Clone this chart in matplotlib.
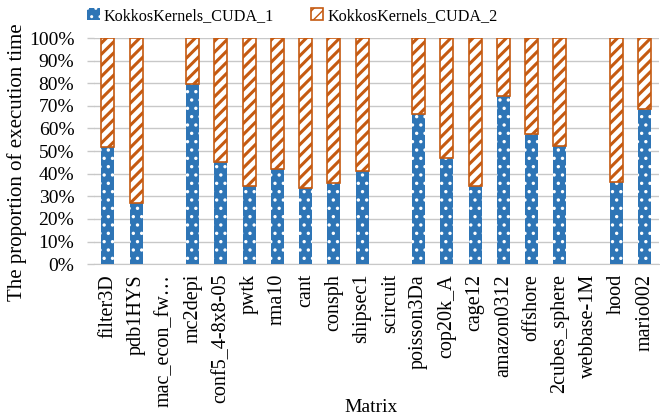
import numpy as np
import matplotlib.pyplot as plt
from matplotlib.ticker import PercentFormatter

plt.rcParams['font.family'] = ['Liberation Serif', 'DejaVu Serif']

matrices = ['filter3D', 'pdb1HYS', 'mac_econ_fw…', 'mc2depi', 'conf5_4-8x8-05',
            'pwtk', 'rma10', 'cant', 'consph', 'shipsec1', 'scircuit',
            'poisson3Da', 'cop20k_A', 'cage12', 'amazon0312', 'offshore',
            '2cubes_sphere', 'webbase-1M', 'hood', 'mario002']
cuda_1 = [0.52, 0.27, np.nan, 0.795, 0.453, 0.346, 0.419, 0.338, 0.36, 0.413, np.nan,
          0.662, 0.47, 0.346, 0.745, 0.577, 0.523, np.nan, 0.364, 0.686]
cuda_2 = [1 - v for v in cuda_1]

blue = '#2E75B6'
orange = '#C55A11'

fig = plt.figure(figsize=(6.6, 4.18), dpi=100)
ax = fig.add_axes([0.142, 0.368, 0.856, 0.541])

x = np.arange(len(matrices))
w = 0.46
with plt.rc_context({'hatch.linewidth': 1.2}):
    ax.bar(x, cuda_1, w, color=blue, edgecolor='white', linewidth=0,
           hatch='..', label='KokkosKernels_CUDA_1', zorder=3)
with plt.rc_context({'hatch.linewidth': 2.2}):
    ax.bar(x, cuda_2, w, bottom=cuda_1, color='white', edgecolor=orange,
           linewidth=1.2, hatch='///', label='KokkosKernels_CUDA_2', zorder=3)

ax.set_xlim(-0.5, len(matrices) - 0.5)
ax.set_ylim(0, 1)
ax.set_yticks(np.arange(0, 1.01, 0.1))
ax.yaxis.set_major_formatter(PercentFormatter(1.0, decimals=0))
ax.grid(axis='y', color='#C8C8C8', linewidth=1, zorder=0)
ax.set_xticks(x)
ax.set_xticklabels(matrices, rotation=90, fontsize=14.5)
ax.tick_params(axis='y', labelsize=14, length=5, width=1, color='#C8C8C8', pad=9)
ax.tick_params(axis='x', length=0, pad=7)
for s in ['left', 'right', 'top']:
    ax.spines[s].set_visible(False)
ax.spines['bottom'].set_color('#C8C8C8')

ax.set_ylabel('The proportion of execution time', fontsize=15)
ax.yaxis.set_label_coords(-0.118, 0.45)
fig.text(0.562, 0.004, 'Matrix', fontsize=14, ha='center', va='bottom')
fig.legend(*ax.get_legend_handles_labels(), loc='center',
           bbox_to_anchor=(0.443, 0.962), ncol=2, frameon=False,
           fontsize=11.6, handlelength=0.75, handleheight=0.75,
           columnspacing=2.3, handletextpad=0.25, borderaxespad=0)

fig.savefig('out.png', dpi=100)
